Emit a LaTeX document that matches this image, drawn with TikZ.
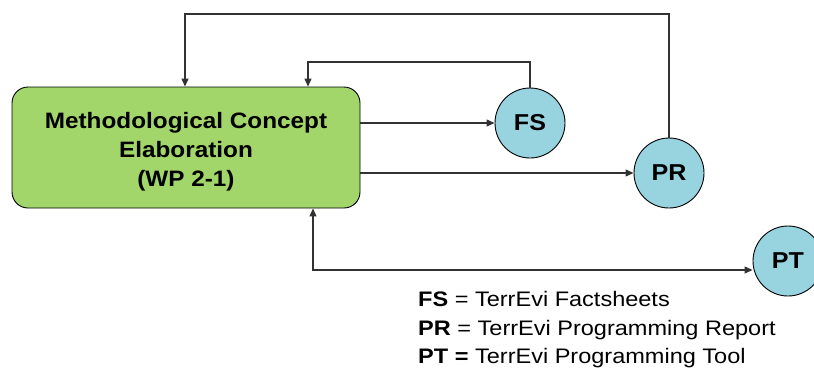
\documentclass[tikz,border=0pt]{standalone}
\usepackage{fontspec}
\setmainfont{Liberation Sans}
\newfontfamily\wideboxfont[FakeStretch=1.09]{Liberation Sans}
\newfontfamily\widelegfont[FakeStretch=1.12]{Liberation Sans}
\usetikzlibrary{arrows.meta}

\definecolor{taskgreen}{RGB}{162,214,106}
\definecolor{outblue}{RGB}{152,211,224}
\definecolor{wire}{RGB}{50,50,50}

\begin{document}
\begin{tikzpicture}[
    x = 1pt, y = -1pt,
    task/.style = {draw = black, fill = taskgreen, rounded corners = 16pt,
                   minimum width = 348pt, minimum height = 121pt,
                   line width = 0.9pt},
    tasktext/.style = {align = center, inner sep = 0pt,
                       font = \wideboxfont\fontsize{22.3}{29}\selectfont\bfseries},
    output/.style = {circle, draw = black, fill = outblue, minimum size = 70pt,
                     inner sep = 0pt,
                     font = \wideboxfont\fontsize{23}{28}\selectfont\bfseries,
                     line width = 0.9pt},
    legend/.style = {anchor = base west, inner sep = 0pt,
                     font = \widelegfont\fontsize{21}{28}\selectfont},
    flow/.style = {draw = wire, line width = 1.1pt, -{Triangle[length = 8pt, width = 7pt]}},
    twoway/.style = {draw = wire, line width = 1.1pt,
                     {Triangle[length = 8pt, width = 7pt]}-{Triangle[length = 8pt, width = 7pt]}},
  ]
  \useasboundingbox (0,0) rectangle (814,367);

  \node [task] (concept) at (186,147.5) {};
  \node [tasktext] (concept text) at ([yshift = -4pt]concept.center)
        {Methodological Concept\\Elaboration\\(WP 2-1)};
  \node [output] (fs) at (530,123) {FS};
  \node [output] (pr) at (669,173) {PR};
  \node [output] (pt) at (788,261) {PT};

  \coordinate (fs back) at (308,62);
  \coordinate (pr back) at (185,14);
  \coordinate (pt join) at (313,270);

  \draw [flow] (concept.east |- fs.west) -- (fs.west);
  \draw [flow] (concept.east |- pr.west) -- (pr.west);
  \draw [flow] (fs.north) |- (fs back) -- (fs back |- concept.north);
  \draw [flow] (pr.north) |- (pr back) -- (pr back |- concept.north);
  \draw [twoway] (pt join |- concept.south) -- (pt join) -- (pt join -| pt.west);

  \node [legend] (leg fs) at (418,306.7) {\textbf{FS} = TerrEvi Factsheets};
  \node [legend] (leg pr) at (418,335) {\textbf{PR} = TerrEvi Programming Report};
  \node [legend] (leg pt) at (418,363.3) {\textbf{PT =} TerrEvi Programming Tool};
\end{tikzpicture}
\end{document}
